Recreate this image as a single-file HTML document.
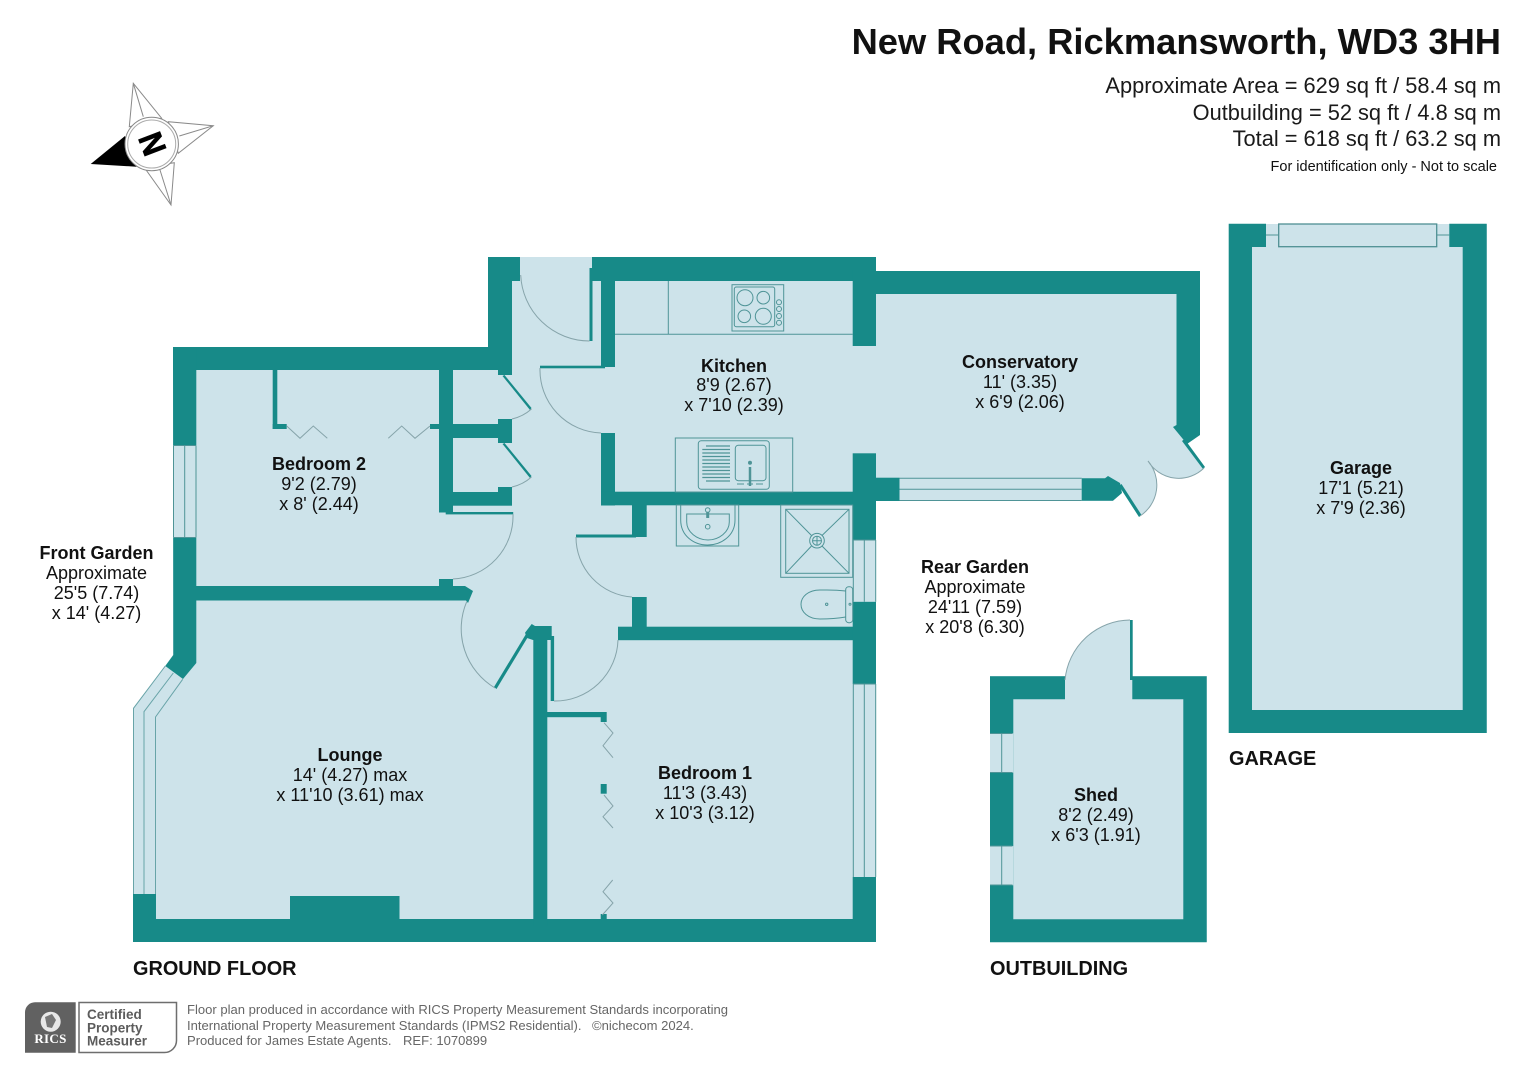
<!DOCTYPE html>
<html lang="en"><head><meta charset="utf-8"><title>New Road, Rickmansworth floor plan</title>
<style>
html,body{margin:0;padding:0;background:#fff;width:1527px;height:1080px;overflow:hidden}
svg{display:block}
text{font-family:"Liberation Sans",Arial,sans-serif;fill:#111;white-space:pre}
.b{font-weight:700;font-size:18px;text-anchor:middle}
.n{font-size:18px;text-anchor:middle}
.h{font-weight:700;font-size:19.9px}
.a{font-size:21.8px;text-anchor:end;fill:#1a1a1a}
.f{font-size:13.05px;fill:#666}
.w{fill:#178a88}
.l{fill:none;stroke:#4f9497;stroke-width:1}
.d{fill:none;stroke:#86a4aa;stroke-width:1}
</style></head><body>
<svg xmlns="http://www.w3.org/2000/svg" width="1527" height="1080" viewBox="0 0 1527 1080">
<rect width="1527" height="1080" fill="#fff"/>

<!-- floors -->
<path fill="#cde3ea" d="M173,347H488V257H876V271H1200V435L1187,444L1204,468A36,36 0 0 1 1148,461A37,37 0 0 1 1140,516L1120,485L1113,501H876V942H133V708L165,666L173,655Z"/>
<rect x="990" y="676" width="217" height="266" fill="#cde3ea"/>
<path fill="#cde3ea" d="M1065,680A66,66 0 0 1 1131,620V680Z"/>
<rect x="1229" y="224" width="258" height="509" fill="#cde3ea"/>

<!-- main walls -->
<g class="w">
<rect x="173" y="347" width="339" height="23"/>
<rect x="488" y="257" width="24" height="100"/>
<rect x="512" y="257" width="8" height="24"/>
<polygon points="173,347 196.3,347 196.3,663 183,679 165.3,666 173.3,655"/>
<rect x="133" y="919" width="743" height="23"/>
<rect x="133" y="894" width="23" height="30"/>
<rect x="290" y="896" width="109.5" height="25"/>
<!-- bed 2 closet -->
<rect x="272.7" y="370" width="4.6" height="59"/>
<rect x="272.7" y="424" width="14" height="5"/>
<rect x="430" y="424" width="12" height="5"/>
<rect x="439" y="370" width="14" height="142.5"/>
<rect x="453" y="424" width="59" height="14"/>
<rect x="453" y="492" width="59" height="13.7"/>
<rect x="498" y="370" width="14" height="5"/>
<rect x="498" y="419" width="14" height="24"/>
<rect x="498" y="487" width="14" height="6"/>
<rect x="445.7" y="512" width="67.5" height="2.4"/>
<polygon points="504.5,375 531.5,408 530,410 502.5,376"/>
<polygon points="504.5,443 531.5,476 530,478 502.5,444"/>
<!-- bedroom 2 bottom wall -->
<polygon points="196,586 439,586 439,579 453,579 453,586 465,586 473,591 468,603 466,600.5 196,600.5"/>
<!-- kitchen -->
<rect x="592" y="257" width="284" height="24"/>
<rect x="589.5" y="268" width="3" height="73"/>
<rect x="601" y="281" width="14" height="86"/>
<rect x="540" y="365.7" width="65" height="2.6"/>
<rect x="601" y="433" width="14" height="72.5"/>
<rect x="601" y="491.7" width="275" height="13.6"/>
<!-- bath -->
<rect x="632" y="505" width="14.7" height="32"/>
<rect x="576" y="534.5" width="60" height="3"/>
<rect x="632" y="597" width="14.7" height="35"/>
<rect x="618" y="626.7" width="258" height="13.5"/>
<!-- right wall -->
<rect x="852.7" y="270" width="23.3" height="76"/>
<rect x="852.7" y="453.3" width="23.3" height="86.7"/>
<rect x="852.7" y="601.7" width="23.3" height="82.3"/>
<rect x="852.7" y="877" width="23.3" height="45"/>
<!-- conservatory -->
<rect x="876" y="271" width="324" height="23"/>
<polygon points="1176.5,271 1200,271 1200,435 1187,444 1173,427 1176.5,425"/>
<rect x="876" y="477.7" width="23.5" height="23.3"/>
<polygon points="1108,476 1120,483 1122,493 1113,500.7 1081.7,500.7 1081.7,478.3 1105,478.3"/>
<polygon points="1182,441 1184.5,439 1205,467 1203,469"/>
<polygon points="1119,486 1121.5,484 1141.5,515 1139,517"/>
<!-- lounge / bed 1 partition -->
<rect x="533.3" y="636" width="14" height="290"/>
<polygon points="525,632.7 531.7,624 535,626 551.7,626 551.7,640 533,640 527,638"/>
<rect x="550.7" y="636" width="3.4" height="65"/>
<polygon points="494,687 526,634 528.5,636 496.5,689"/>
<rect x="547" y="712" width="59.5" height="5.2"/>
<rect x="600.7" y="712" width="6" height="10"/>
<rect x="600.7" y="784" width="6" height="9.7"/>
<rect x="600.7" y="914" width="6" height="6"/>
<!-- shed -->
<path d="M990,676.3H1065V699.3H1013.3V919.3H1183.3V699.3H1132.3V676.3H1206.7V942.3H990Z"/>
<rect x="1130" y="620" width="2.7" height="60"/>
<!-- garage -->
<path d="M1228.7,223.7H1266V247H1252V710H1462.7V247H1449.3V223.7H1486.7V733H1228.7Z"/>
</g>

<!-- windows -->
<rect x="173" y="445.3" width="23.5" height="92.4" fill="#cde3ea"/>
<path class="l" d="M173.5,445.5V537.5M184.7,445.5V537.5M196,445.5V537.5M173.5,445.5H196M173.5,537.5H196"/>
<path class="l" stroke-opacity=".8" d="M133.5,894V708.3L165.3,666M144,894V711.7L173.3,673M155.5,894V717L182.7,679.3"/>
<rect x="853" y="540" width="23" height="61.7" fill="#cde3ea"/>
<path class="l" d="M853.3,540V601.7M864.3,540V601.7M875.7,540V601.7M853,540H876"/>
<rect x="853" y="684" width="23" height="193" fill="#cde3ea"/>
<path class="l" d="M853.3,684V877M864.3,684V877M875.7,684V877M853,684H876"/>
<path class="l" d="M899.5,478.3H1081.7M899.5,489.3H1081.7M899.5,500.5H1081.7"/>
<rect x="990" y="733.3" width="23.3" height="39.4" fill="#cde3ea"/>
<rect x="990" y="846" width="23.3" height="39.3" fill="#cde3ea"/>
<path class="l" d="M1001.7,733.3V772.7M1001.7,846V885.3M990,733.5H1012.5M990,772.5H1012.5M990,846H1012.5M990,885H1012.5"/>
<rect x="1278.7" y="224" width="158" height="22.7" fill="#cde3ea" stroke="#4f8f93" stroke-width="1.3"/>
<path class="l" d="M1266,235H1278.7M1436.7,235H1449.3"/>

<!-- door arcs -->
<g class="d">
<path d="M520.7,275A69,69 0 0 0 589.5,341"/>
<path d="M540,368A63,63 0 0 0 601,433"/>
<path d="M576,537A60,60 0 0 0 632,597"/>
<path d="M513,514A63,63 0 0 1 453,579"/>
<path d="M466.7,601.7A69,69 0 0 0 495,688"/>
<path d="M554,701A63,63 0 0 0 618,640"/>
<path d="M531.5,409A44,44 0 0 1 512,419"/>
<path d="M531.5,477A44,44 0 0 1 512,487"/>
<path d="M1204,468A36,36 0 0 1 1148,461A37,37 0 0 1 1140,516"/>
<path d="M1065,680A66,66 0 0 1 1130,620"/>
<!-- bifold zigzags -->
<path d="M286.7,426L300,438.3L313.3,426L327.3,438.3M388.3,438.3L401.7,426L415,438.3L430,426"/>
<path d="M604,722.7L613,733L603,745.7L613,757.7M604,795L613,806L603,816.7L613,828M612.7,880L603,891.7L613,903L602.3,915"/>
</g>

<!-- fixtures -->
<g class="l">
<path d="M615,334.3H852.7M668.3,281V334.3"/>
<rect x="732" y="284.7" width="51.7" height="46.3"/>
<rect x="734.3" y="287" width="40.4" height="39.7" rx="2"/>
<circle cx="745" cy="297.7" r="8"/><circle cx="763.3" cy="297.7" r="6.3"/>
<circle cx="744.3" cy="316.3" r="6.3"/><circle cx="763.3" cy="316.3" r="8"/>
<circle cx="779" cy="302.3" r="2.5"/><circle cx="779" cy="309" r="2.5"/><circle cx="779" cy="316" r="2.5"/><circle cx="779" cy="322.7" r="2.5"/>
<rect x="675.3" y="438" width="117.4" height="54"/>
<rect x="698.3" y="440.7" width="71" height="48.6" rx="3"/>
<rect x="735.3" y="445.3" width="30.7" height="35.4" rx="3"/>
<path stroke-width="1.3" d="M706,446H730M702.3,449.5H730M702.3,453H730M702.3,456.5H730M702.3,460H730M702.3,463.5H730M702.3,467H730M702.3,470.5H730M702.3,474H730M702.3,477.5H730M706,481H730"/>
<path stroke-width="2.5" d="M750,467V486"/>
<path d="M737,484H744M756,484H763M747,484H753"/>
<circle cx="750" cy="462.7" r="1.5" fill="#4f9497"/>
<!-- basin -->
<rect x="676.3" y="505" width="62.4" height="41"/>
<path d="M680.7,505V520C680.7,536 694,545 707.5,545C721,545 735,536 735,520V505"/>
<path d="M686.7,514H729.3V522C729.3,532 719,540 708,540C697,540 686.7,532 686.7,522Z"/>
<circle cx="707.7" cy="510" r="2.3"/><circle cx="707.7" cy="526.7" r="2.3"/>
<path stroke-width="3" d="M707.7,512V518"/>
<!-- shower -->
<rect x="780.7" y="505" width="72" height="72.3"/>
<rect x="785.7" y="509.3" width="63.3" height="64"/>
<path d="M785.7,509.3L811.5,535.5M849,509.3L822,535.5M785.7,573.3L811.5,546M849,573.3L822,546"/>
<circle cx="817" cy="540.7" r="7.3"/><circle cx="817" cy="540.7" r="4.5"/>
<path d="M812.5,540.7H821.5M817,536.2V545.2"/>
<!-- wc -->
<path d="M845.7,591C834,589.5 826,590 820,590C808,590 801,597 801,604.3C801,612 808,619 820,619C826,619 834,619 845.7,617"/>
<rect x="845.7" y="586.7" width="7" height="36" rx="3"/>
<circle cx="826.7" cy="604.3" r="1.2"/><circle cx="850" cy="604.3" r="1"/>
</g>

<!-- compass -->
<g>
<g fill="#fff" stroke="#8a8a8a" stroke-width="1">
<polygon points="133.3,83.3 161.7,118.3 129.3,126.7"/>
<polygon points="213.3,125.7 168.3,121.7 178.3,153.3"/>
<polygon points="171,205 174.3,162.7 144,167"/>
<path d="M133.3,83.3L143.3,116.7M213.3,125.7L179.3,136M171,205L160,170" fill="none"/>
</g>
<polygon points="90.7,164 125,136 136.7,166.7" fill="#000"/>
<circle cx="151.7" cy="144" r="26.7" fill="#fff" stroke="#888" stroke-width="1"/>
<circle cx="151.7" cy="144" r="24" fill="#fff" stroke="#aaa" stroke-width="1"/>
<text transform="translate(151.7,144) rotate(-111) scale(.9,1)" y="12" text-anchor="middle" font-size="33" font-weight="700" style="fill:#000;stroke:#000;stroke-width:.8">N</text>
</g>

<!-- heading -->
<text x="1501" y="54" text-anchor="end" font-size="36.3" font-weight="700">New Road, Rickmansworth, WD3 3HH</text>
<text class="a" x="1501" y="93">Approximate Area = 629 sq ft / 58.4 sq m</text>
<text class="a" x="1501" y="120">Outbuilding = 52 sq ft / 4.8 sq m</text>
<text class="a" x="1501" y="146">Total = 618 sq ft / 63.2 sq m</text>
<text x="1497" y="171" text-anchor="end" font-size="14.5">For identification only - Not to scale</text>

<!-- labels -->
<text class="b" x="734" y="372">Kitchen</text><text class="n" x="734" y="391">8'9 (2.67)</text><text class="n" x="734" y="411">x 7'10 (2.39)</text>
<text class="b" x="1020" y="368">Conservatory</text><text class="n" x="1020" y="388">11' (3.35)</text><text class="n" x="1020" y="408">x 6'9 (2.06)</text>
<text class="b" x="319" y="470">Bedroom 2</text><text class="n" x="319" y="490">9'2 (2.79)</text><text class="n" x="319" y="510">x 8' (2.44)</text>
<text class="b" x="1361" y="474">Garage</text><text class="n" x="1361" y="494">17'1 (5.21)</text><text class="n" x="1361" y="514">x 7'9 (2.36)</text>
<text class="b" x="96.5" y="559">Front Garden</text><text class="n" x="96.5" y="579">Approximate</text><text class="n" x="96.5" y="599">25'5 (7.74)</text><text class="n" x="96.5" y="619">x 14' (4.27)</text>
<text class="b" x="975" y="573">Rear Garden</text><text class="n" x="975" y="593">Approximate</text><text class="n" x="975" y="613">24'11 (7.59)</text><text class="n" x="975" y="633">x 20'8 (6.30)</text>
<text class="b" x="350" y="761">Lounge</text><text class="n" x="350" y="781">14' (4.27) max</text><text class="n" x="350" y="801">x 11'10 (3.61) max</text>
<text class="b" x="705" y="779">Bedroom 1</text><text class="n" x="705" y="799">11'3 (3.43)</text><text class="n" x="705" y="819">x 10'3 (3.12)</text>
<text class="b" x="1096" y="801">Shed</text><text class="n" x="1096" y="821">8'2 (2.49)</text><text class="n" x="1096" y="841">x 6'3 (1.91)</text>
<text class="h" x="1229" y="765">GARAGE</text>
<text class="h" x="133" y="975">GROUND FLOOR</text>
<text class="h" x="990" y="975">OUTBUILDING</text>

<!-- RICS -->
<path d="M35,1002.3H75.7V1052.7H25V1012.3A10,10 0 0 1 35,1002.3Z" fill="#616161"/>
<circle cx="50.7" cy="1021.7" r="10" fill="#e8e8e8"/>
<path d="M45,1017L52,1014L56,1020L52,1028L47,1027Z" fill="#777"/>
<text x="50.5" y="1043" text-anchor="middle" font-size="13" font-weight="700" style="font-family:'Liberation Serif',serif;fill:#fff;letter-spacing:.3px">RICS</text>
<path d="M79,1002.5H176.5V1040.5A12,12 0 0 1 164.5,1052.5H79Z" fill="#fff" stroke="#6e6e6e" stroke-width="1.5"/>
<g font-size="13.5" font-weight="700">
<text x="87" y="1019" style="fill:#5c5c5c">Certified</text>
<text x="87" y="1032.7" style="fill:#5c5c5c">Property</text>
<text x="87" y="1045.7" style="fill:#5c5c5c">Measurer</text>
</g>
<text class="f" x="187" y="1014">Floor plan produced in accordance with RICS Property Measurement Standards incorporating</text>
<text class="f" x="187" y="1030">International Property Measurement Standards (IPMS2 Residential).</text>
<text class="f" x="592" y="1030">©nichecom 2024.</text>
<text class="f" x="187" y="1045">Produced for James Estate Agents.</text>
<text class="f" x="403" y="1045">REF: 1070899</text>
</svg>
</body></html>
